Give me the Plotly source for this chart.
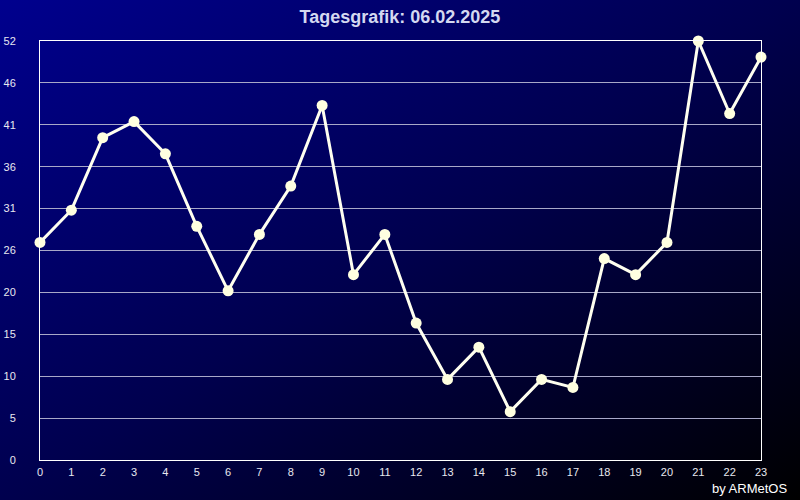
import plotly.graph_objects as go
import base64

hours = list(range(24))
values = [27, 31, 40, 42, 38, 29, 21, 28, 34, 44, 23, 28, 17, 10, 14, 6, 10, 9, 25, 23, 27, 52, 43, 50]
ytick_vals = [i * 5.2 for i in range(11)]
ytick_text = ["0", "5", "10", "15", "20", "26", "31", "36", "41", "46", "52"]
title_text = "Tagesgrafik: 06.02.2025"
credit_text = "by ARMetOS"

svg = ('<svg xmlns="http://www.w3.org/2000/svg" width="800" height="500">'
       '<defs><linearGradient id="g" x1="0" y1="0" x2="1" y2="1">'
       '<stop offset="0" stop-color="#00008e"/>'
       '<stop offset="0.5" stop-color="#00004e"/>'
       '<stop offset="1" stop-color="#000000"/>'
       '</linearGradient></defs>'
       '<rect width="800" height="500" fill="url(#g)"/></svg>')
bg_src = "data:image/svg+xml;base64," + base64.b64encode(svg.encode()).decode()

fig = go.Figure()
fig.add_trace(go.Scatter(
    x=hours, y=values, mode="lines+markers",
    line=dict(color="#fffff0", width=3),
    marker=dict(color="#ffffe0", size=11),
    cliponaxis=False, hoverinfo="x+y",
))

fig.update_layout(
    width=800, height=500,
    margin=dict(l=40, r=39, t=41, b=40, autoexpand=False),
    paper_bgcolor="#000040",
    plot_bgcolor="rgba(0,0,0,0)",
    showlegend=False,
    font=dict(family="Liberation Sans, Arial, sans-serif", color="#e8e8f0", size=11),
    title=dict(text="<b>" + title_text + "</b>", x=0.5, xanchor="center",
               y=0.966, yanchor="middle",
               font=dict(size=18, color="#d4d8f0", family="Liberation Sans, Arial, sans-serif")),
    images=[dict(source=bg_src, xref="paper", yref="paper", x=-40/721, y=1 + 41/419,
                 sizex=800/721, sizey=500/419, xanchor="left", yanchor="top",
                 sizing="stretch", layer="below")],
    xaxis=dict(range=[0, 23], tickmode="array", tickvals=hours, automargin=False,
               ticktext=[str(h) for h in hours], showgrid=False, zeroline=False,
               showline=True, linecolor="#ffffff", linewidth=1, mirror=True,
               ticks="", ticklabelstandoff=2, tickfont=dict(size=11, color="#e8e8f0")),
    yaxis=dict(range=[0, 52], tickmode="array", tickvals=ytick_vals, ticktext=ytick_text,
               automargin=False,
               showgrid=True, gridcolor="#a8a8c8", gridwidth=1, zeroline=False,
               showline=True, linecolor="#ffffff", linewidth=1, mirror=True,
               ticks="", ticklabelstandoff=21, tickfont=dict(size=11, color="#e8e8f0")),
    annotations=[dict(text=credit_text, xref="paper", yref="paper",
                      x=(789 - 40) / 721, y=-(488 - 460) / 419, xanchor="right", yanchor="middle",
                      showarrow=False, font=dict(size=13, color="#ffffff"))],
)

fig.write_html("out.html", config={"displayModeBar": False},
               post_script="document.body.style.margin='0';document.body.style.padding='0';")
